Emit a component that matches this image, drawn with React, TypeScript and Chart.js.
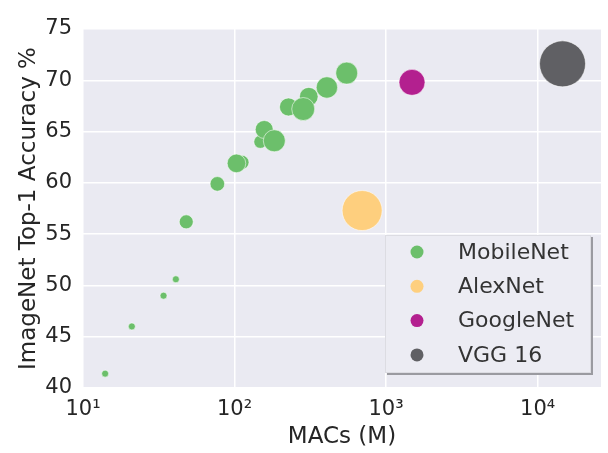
import React, { useEffect, useRef } from "react";
import { Chart, registerables } from "chart.js";

Chart.register(...registerables);

// MobileNet variants (MACs in millions, top-1 accuracy %, bubble size)
const mobileMACs = [14, 21, 34, 41, 48, 77, 112, 148, 103, 157, 227, 309, 183, 284, 407, 550];
const mobileAcc = [41.4, 46.0, 49.0, 50.6, 56.2, 59.9, 62.0, 64.0, 61.9, 65.2, 67.4, 68.4, 64.1, 67.2, 69.3, 70.7];
const mobileSize = [3.5, 3.5, 3.5, 3.5, 7, 7.3, 7, 6.5, 9.3, 9, 9, 9.3, 11, 11.5, 10.7, 11];

const alexMACs = [695];
const alexAcc = [57.3];
const alexSize = [20];

const googleMACs = [1483];
const googleAcc = [69.8];
const googleSize = [13];

const vggMACs = [14600];
const vggAcc = [71.6];
const vggSize = [23];

const seriesNames = ["MobileNet", "AlexNet", "GoogleNet", "VGG 16"];
const seriesColors = ["#6cbf6b", "#fecf7e", "#b3208f", "#606064"];

const xTickValues = [10, 100, 1000, 10000];
const xTickLabels = ["10¹", "10²", "10³", "10⁴"];
const yTicks = [40, 45, 50, 55, 60, 65, 70, 75];

const FONT = "'DejaVu Sans', sans-serif";
const TEXT = "#262626";

function pts(xs: number[], ys: number[], rs: number[]) {
  return xs.map((x, i) => ({ x, y: ys[i], r: rs[i] }));
}

const bgPlugin = {
  id: "bgPlugin",
  beforeDraw(chart: any) {
    const { ctx, chartArea: a } = chart;
    ctx.save();
    ctx.fillStyle = "#eaeaf2";
    ctx.fillRect(a.left, a.top, a.right - a.left, a.bottom - a.top);
    ctx.restore();
  },
};

const legendPlugin = {
  id: "insideLegend",
  afterDraw(chart: any) {
    const { ctx, chartArea: a } = chart;
    const left = a.right - 216;
    const top = a.top + 206;
    const w = 206;
    const h = 138;
    ctx.save();
    ctx.fillStyle = "#9a9aa0";
    ctx.fillRect(left + 2, top + 2, w, h);
    ctx.fillStyle = "#ececf3";
    ctx.fillRect(left, top, w, h);
    ctx.strokeStyle = "#dcdce2";
    ctx.lineWidth = 1;
    ctx.strokeRect(left + 0.5, top + 0.5, w - 1, h - 1);
    ctx.font = `22px ${FONT}`;
    ctx.textBaseline = "middle";
    ctx.textAlign = "left";
    chart.data.datasets.forEach((ds: any, i: number) => {
      const cy = top + 17 + i * 34.3;
      ctx.beginPath();
      ctx.arc(left + 32, cy, 6.5, 0, Math.PI * 2);
      ctx.fillStyle = ds.backgroundColor;
      ctx.fill();
      ctx.fillStyle = "#333333";
      ctx.fillText(ds.label, left + 73, cy + 1);
    });
    ctx.restore();
  },
};

export default function App() {
  const ref = useRef<HTMLCanvasElement>(null);
  useEffect(() => {
    if (!ref.current) return;
    const allX = [mobileMACs, alexMACs, googleMACs, vggMACs];
    const allY = [mobileAcc, alexAcc, googleAcc, vggAcc];
    const allR = [mobileSize, alexSize, googleSize, vggSize];
    const chart = new Chart(ref.current, {
      type: "bubble",
      data: {
        datasets: seriesNames.map((name, i) => ({
          label: name,
          data: pts(allX[i], allY[i], allR[i]),
          backgroundColor: seriesColors[i],
          borderColor: "rgba(255,255,255,0.55)",
          borderWidth: 1,
        })),
      },
      options: {
        responsive: false,
        animation: false,
        devicePixelRatio: 1,
        layout: { autoPadding: false, padding: { top: 29, right: 7, left: 0, bottom: 0 } },
        plugins: {
          legend: { display: false },
          tooltip: { enabled: false },
        },
        scales: {
          x: {
            type: "logarithmic",
            min: 10,
            max: 26200,
            border: { display: false },
            grid: { color: "#ffffff", lineWidth: 1.5, drawTicks: false },
            afterBuildTicks: (scale: any) => {
              scale.ticks = xTickValues.map((v) => ({ value: v }));
            },
            afterFit: (scale: any) => {
              scale.height = 65;
              scale.paddingLeft = 0;
              scale.paddingRight = 0;
            },
            ticks: {
              autoSkip: false,
              maxRotation: 0,
              padding: 9,
              color: TEXT,
              font: { family: FONT, size: 21 },
              callback: (v: any) => {
                const idx = xTickValues.indexOf(Number(v));
                return idx >= 0 ? xTickLabels[idx] : "";
              },
            },
            title: {
              display: true,
              text: "MACs (M)",
              color: TEXT,
              font: { family: FONT, size: 23 },
              padding: { top: 0, bottom: 2 },
            },
          },
          y: {
            type: "linear",
            min: 40,
            max: 75,
            border: { display: false },
            grid: { color: "#ffffff", lineWidth: 1.5, drawTicks: false },
            afterBuildTicks: (scale: any) => {
              scale.ticks = yTicks.map((v) => ({ value: v }));
            },
            afterFit: (scale: any) => {
              scale.width = 83;
              scale.paddingTop = 0;
              scale.paddingBottom = 0;
            },
            ticks: {
              padding: 11,
              color: TEXT,
              font: { family: FONT, size: 21 },
            },
            title: {
              display: true,
              text: "ImageNet Top-1 Accuracy %",
              color: TEXT,
              font: { family: FONT, size: 23 },
              padding: { top: 15, bottom: 0 },
            },
          },
        },
      },
      plugins: [bgPlugin, legendPlugin],
    } as any);
    return () => chart.destroy();
  }, []);
  return (
    <div style={{ position: "fixed", left: 0, top: 0, width: 608, height: 453, background: "#ffffff" }}>
      <canvas ref={ref} width={608} height={453} />
    </div>
  );
}
